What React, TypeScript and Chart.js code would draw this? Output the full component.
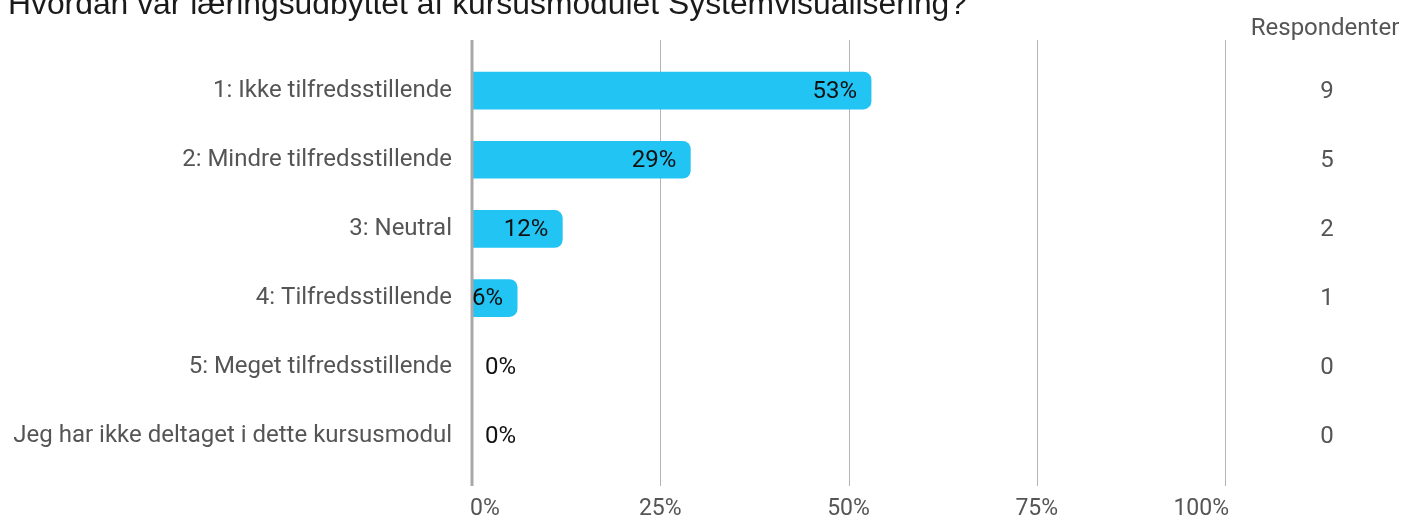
import React, { useEffect, useRef } from "react";
import { Chart, registerables } from "chart.js";

Chart.register(...registerables);

const title = "Hvordan var læringsudbyttet af kursusmodulet Systemvisualisering?";
const categories = [
  "1: Ikke tilfredsstillende",
  "2: Mindre tilfredsstillende",
  "3: Neutral",
  "4: Tilfredsstillende",
  "5: Meget tilfredsstillende",
  "Jeg har ikke deltaget i dette kursusmodul",
];
const percents = [53, 29, 12, 6, 0, 0];
const respondents = [9, 5, 2, 1, 0, 0];
const xTicks = [0, 25, 50, 75, 100];
const countHeader = "Respondenter";

const FONT = "Roboto";
const BAR_COLOR = "#22C4F4";

const overlay = {
  id: "overlay",
  beforeDatasetsDraw(chart: any) {
    const { ctx, scales } = chart;
    const x = scales.x;
    ctx.save();
    xTicks.forEach((t) => {
      if (t === 0) return;
      const px = Math.round(x.getPixelForValue(t));
      ctx.beginPath();
      ctx.strokeStyle = "#b4b4b4";
      ctx.lineWidth = 1;
      ctx.moveTo(px + 0.5, 40);
      ctx.lineTo(px + 0.5, 486);
      ctx.stroke();
    });
    ctx.restore();
  },
  afterDatasetsDraw(chart: any) {
    const { ctx, scales } = chart;
    const x = scales.x;
    const y = scales.y;
    ctx.save();
    // zero axis line
    const zpx = Math.round(x.getPixelForValue(0));
    ctx.beginPath();
    ctx.strokeStyle = "#a8a8a8";
    ctx.lineWidth = 3;
    ctx.moveTo(zpx, 40);
    ctx.lineTo(zpx, 486);
    ctx.stroke();

    // title
    ctx.font = `26px "Liberation Sans", Arial, sans-serif`;
    ctx.fillStyle = "#1a1a1a";
    ctx.textAlign = "left";
    ctx.textBaseline = "alphabetic";
    const w = ctx.measureText(title).width;
    ctx.save();
    ctx.translate(8, 14);
    ctx.scale(959 / w, 1.2);
    ctx.fillText(title, 0, 0);
    ctx.restore();

    // x tick labels
    ctx.font = `23px ${FONT}`;
    ctx.fillStyle = "#555";
    ctx.textBaseline = "middle";
    xTicks.forEach((t, i) => {
      const px = x.getPixelForValue(t);
      const label = `${t}%`;
      if (i === 0) {
        ctx.textAlign = "left";
        ctx.fillText(label, px - 2, 509);
      } else if (i === xTicks.length - 1) {
        ctx.textAlign = "right";
        ctx.fillText(label, px + 4, 509);
      } else {
        ctx.textAlign = "center";
        ctx.fillText(label, px, 509);
      }
    });

    // bar value labels
    ctx.font = `24px ${FONT}`;
    ctx.fillStyle = "#111";
    ctx.textBaseline = "middle";
    const zero = x.getPixelForValue(0);
    percents.forEach((v, i) => {
      const end = x.getPixelForValue(v);
      const cy = y.getPixelForValue(i);
      const label = `${v}%`;
      const lw = ctx.measureText(label).width;
      if (end - 14 - lw >= zero) {
        ctx.textAlign = "right";
        ctx.fillText(label, end - 14, cy + 1);
      } else {
        ctx.textAlign = "left";
        ctx.fillText(label, end + 13, cy + 1);
      }
    });

    // respondents column
    ctx.fillStyle = "#555";
    ctx.textAlign = "center";
    respondents.forEach((c, i) => {
      ctx.fillText(String(c), 1327, y.getPixelForValue(i) + 1);
    });
    ctx.fillText(countHeader, 1325, 29);
    ctx.restore();
  },
};

export default function App() {
  const ref = useRef<HTMLCanvasElement>(null);
  useEffect(() => {
    document.body.style.margin = "0";
    const chart = new Chart(ref.current as HTMLCanvasElement, {
      type: "bar",
      data: {
        labels: categories,
        datasets: [
          {
            data: percents,
            backgroundColor: (c: any) => (c.raw > 0 ? BAR_COLOR : "rgba(0,0,0,0)"),
            barThickness: 37,
            borderRadius: { topLeft: 0, bottomLeft: 0, topRight: 8, bottomRight: 8 },
            borderSkipped: false,
          },
        ],
      },
      options: {
        indexAxis: "y",
        animation: false,
        responsive: false,
        maintainAspectRatio: false,
        layout: { padding: { left: 0, right: 179, top: 56, bottom: 0 } },
        plugins: { legend: { display: false }, tooltip: { enabled: false } },
        scales: {
          x: {
            min: 0,
            max: 100,
            afterBuildTicks: (s: any) => {
              s.ticks = xTicks.map((v) => ({ value: v }));
            },
            afterFit: (s: any) => {
              s.height = 49;
            },
            grid: { display: false, drawTicks: false },
            border: { display: false },
            ticks: { display: false },
          },
          y: {
            afterFit: (s: any) => {
              s.width = 472;
            },
            grid: { display: false, drawTicks: false },
            border: { display: false },
            ticks: {
              padding: 20,
              color: "#555",
              font: { family: FONT, size: 24 },
            },
          },
        },
      },
      plugins: [overlay],
    });
    return () => chart.destroy();
  }, []);
  return (
    <div style={{ position: "absolute", left: 0, top: 0, width: 1404, height: 520 }}>
      <canvas ref={ref} width={1404} height={520} />
    </div>
  );
}
